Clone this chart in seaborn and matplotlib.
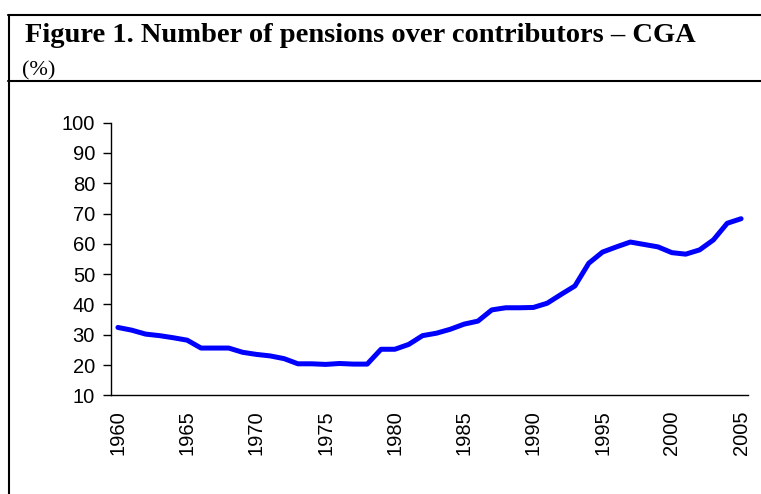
import matplotlib
matplotlib.use("Agg")
import matplotlib.pyplot as plt
import seaborn as sns
import pandas as pd
from matplotlib.lines import Line2D

years = list(range(1960, 2006))
ratio = [32.4, 31.5, 30.2, 29.7, 29.0, 28.2, 25.6, 25.6, 25.6, 24.2,
         23.5, 23.0, 22.1, 20.4, 20.4, 20.2, 20.5, 20.3, 20.3, 25.2,
         25.2, 26.8, 29.7, 30.5, 31.8, 33.5, 34.5, 38.2, 38.9, 38.9,
         39.0, 40.4, 43.3, 46.1, 53.6, 57.3, 59.0, 60.6, 59.8, 59.0,
         57.1, 56.6, 58.0, 61.3, 66.8, 68.3]
xtick_labels = [str(y) for y in range(1960, 2006, 5)]
yticks = list(range(10, 101, 10))

title = "Figure 1. Number of pensions over contributors \u2013 CGA"
subtitle = "(%)"

df = pd.DataFrame({"year": years, "ratio": ratio})

sns.set_theme(style="white")
plt.rcParams["font.family"] = ["Liberation Sans", "DejaVu Sans"]

W, H = 761, 494
fig = plt.figure(figsize=(W / 100, H / 100), dpi=100)
ax = fig.add_axes([111 / W, 1 - 395.3 / H, (748 - 111) / W, (395.3 - 122.7) / H])

sns.lineplot(data=df, x="year", y="ratio", ax=ax, color="#0000FF",
             linewidth=3.6, solid_capstyle="round", solid_joinstyle="round")

ax.set_xlim(1959.5, 2005.5)
ax.set_ylim(10, 100)
ax.set_yticks(yticks)
ax.set_xticks([int(t) for t in xtick_labels])
ax.set_xticklabels(xtick_labels, rotation=90, fontsize=14.5)
ax.tick_params(axis="y", labelsize=14.5, length=5.5, width=1, color="black",
               left=True, pad=6, labelcolor="black")
ax.tick_params(axis="x", length=0, pad=11, labelcolor="black")
ax.set_xlabel("")
ax.set_ylabel("")
for s in ["top", "right"]:
    ax.spines[s].set_visible(False)
for s in ["left", "bottom"]:
    ax.spines[s].set_color("black")
    ax.spines[s].set_linewidth(1.0)
ax.grid(False)

# frame around the figure (left, top, and title separator)
lw = 1.5
fig.add_artist(Line2D([8.5 / W, 8.5 / W], [0, 1 - 15 / H], transform=fig.transFigure,
                      color="black", linewidth=lw))
fig.add_artist(Line2D([8 / W, 1], [1 - 15.5 / H, 1 - 15.5 / H], transform=fig.transFigure,
                      color="black", linewidth=lw))
fig.add_artist(Line2D([8 / W, 1], [1 - 81 / H, 1 - 81 / H], transform=fig.transFigure,
                      color="black", linewidth=lw))

fig.text(25 / W, 1 - 42 / H, title, fontsize=20.5, fontweight="bold",
         family=["Liberation Serif", "DejaVu Serif"], ha="left", va="baseline",
         color="black")
fig.text(22 / W, 1 - 71 / H, subtitle, fontsize=16,
         family=["Liberation Serif", "DejaVu Serif"], ha="left", va="center",
         color="black")

fig.savefig("out.png", dpi=100)
